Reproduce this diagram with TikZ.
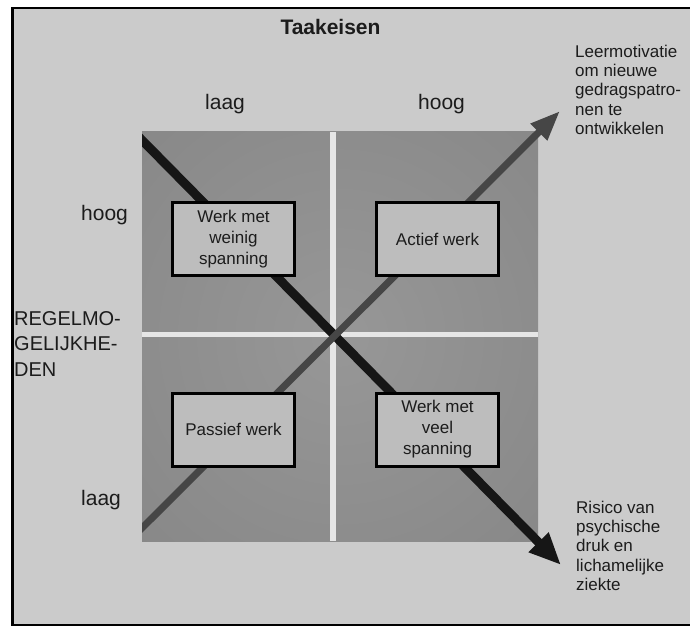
\documentclass[tikz,border=0pt]{standalone}
\usepackage{fontspec}
\setmainfont{Liberation Sans}
\usetikzlibrary{arrows.meta}
\definecolor{bgc}{HTML}{CBCBCB}
\definecolor{quadin}{HTML}{979797}
\definecolor{quadout}{HTML}{7A7A7A}
\definecolor{divc}{HTML}{E6E6E6}
\definecolor{boxc}{HTML}{BDBDBD}
\definecolor{gry}{HTML}{464646}
\definecolor{blk}{HTML}{161616}
\definecolor{txt}{HTML}{1C1C1C}
\pgfdeclareradialshading{qshade}{\pgfpointorigin}{color(0bp)=(quadin); color(70bp)=(quadout)}
\begin{document}
\begin{tikzpicture}[x=1pt,y=-1pt,
  qbox/.style={draw=black, line width=3pt, fill=boxc, minimum width=122pt, minimum height=73pt,
    align=center, font=\fontsize{17}{21}\selectfont, text=txt, inner sep=0pt},
  side/.style={align=left, anchor=north west, inner sep=0pt,
    font=\fontsize{17}{19.2}\selectfont, text=txt},
  axislbl/.style={font=\fontsize{21}{25}\selectfont, text=txt, inner sep=0pt, anchor=base west}]
\useasboundingbox (0,0) rectangle (690,628);
\fill[white] (0,0) rectangle (690,628);
\begin{scope}
  \clip (0,0) rectangle (690,628);
  \draw[line width=2.5pt, fill=bgc] (12.5,8) rectangle (700,625);
\end{scope}
% quadrants
\shade[shading=qshade] (142,132) rectangle (538,541);
\draw[divc, line width=6pt] (333,132) -- (333,541);
\draw[divc, line width=5pt] (142,334.5) -- (538,334.5);
% arrows
\coordinate (bs) at (132,130);
\coordinate (be) at (561,565);
\coordinate (gs) at (132,538);
\coordinate (ge) at (560,111);
\begin{scope}
  \clip (142,0) rectangle (690,628);
  \draw[blk, line width=9pt, -{Triangle[length=32pt,width=26pt]}] (bs) -- (be);
  \draw[gry, line width=7pt, -{Triangle[length=30pt,width=22pt]}] (gs) -- (ge);
\end{scope}
% boxes
\node[qbox] (lo) at (233.5,239) {Werk met\\weinig\\spanning};
\node[qbox] (ac) at (437.5,239) {Actief werk};
\node[qbox] (pa) at (233.5,429.5) {Passief werk};
\node[qbox] (hi) at (437.5,429.5) {Werk met\\veel\\spanning};
% labels
\node[font=\bfseries\fontsize{21}{25}\selectfont, text=txt, inner sep=0pt, anchor=base] (title) at (330.5,35) {Taakeisen};
\node[axislbl] (tl) at (205,110) {laag};
\node[axislbl] (th) at (418,110) {hoog};
\node[axislbl] (lh) at (81,221) {hoog};
\node[axislbl] (ll) at (81,505) {laag};
\node[align=left, anchor=north west, inner sep=0pt, text=txt,
  font=\fontsize{20}{25.5}\selectfont] (rg) at (14,311) {REGELMO-\\GELIJKHE-\\DEN};
\node[side] (lm) at (575,45) {Leermotivatie\\om nieuwe\\gedragspatro-\\nen te\\ontwikkelen};
\node[side] (rs) at (576,501) {Risico van\\psychische\\druk en\\lichamelijke\\ziekte};
\end{tikzpicture}
\end{document}
